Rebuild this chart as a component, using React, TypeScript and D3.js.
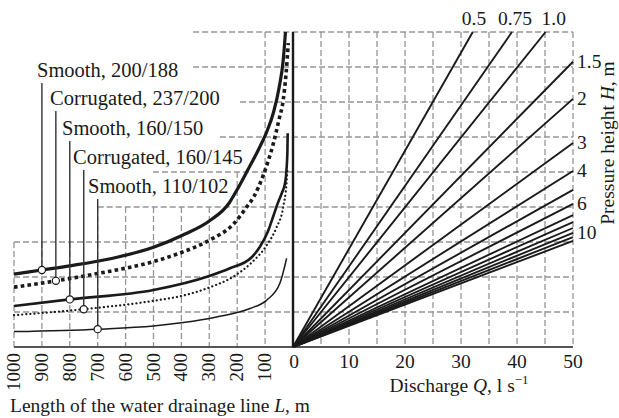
import React, { useEffect, useRef } from "react";
import * as d3 from "d3";

const W = 619;
const H = 418;

// axes
const lengthTicks = [1000, 900, 800, 700, 600, 500, 400, 300, 200, 100];
const dischargeTicks = [10, 20, 30, 40, 50];
const dischargeGrid = [5, 10, 15, 20, 25, 30, 35, 40, 45, 50];
const gridRows = [1, 2, 3, 4, 5, 6, 7, 8, 9];

// left panel grid is cut away under the labels
const rowStartL = [1000, 1000, 1000, 700, 502, 262, 190, 358, 358];
const colTopRow = [3, 3, 3, 4, 4, 4, 4, 4, 5, 9];

// drainage pipe curves: [length L (m), value on shared vertical scale]
const smooth200 = [[1000, 2.08], [900, 2.2], [800, 2.32], [650, 2.53], [500, 2.85], [400, 3.18], [300, 3.6], [230, 4.1], [200, 4.5], [166, 5.0], [120, 5.7], [94, 6.15], [70, 6.7], [50, 7.4], [35, 8.2], [27, 9.0]];
const corrugated237 = [[1000, 1.71], [850, 1.89], [700, 2.1], [500, 2.44], [400, 2.7], [300, 3.05], [215, 3.5], [166, 4.0], [140, 4.3], [107, 4.9], [71, 5.8], [50, 6.5], [35, 7.06], [25, 7.8], [17, 8.68]];
const smooth160 = [[1000, 1.17], [800, 1.36], [500, 1.63], [300, 2.03], [226, 2.25], [150, 2.55], [118, 2.87], [90, 3.3], [70, 3.75], [55, 4.1], [40, 4.4], [28, 4.7], [23, 5.1], [20, 5.6], [19, 6.11]];
const corrugated160 = [[1000, 0.91], [750, 1.08], [500, 1.32], [393, 1.47], [300, 1.7], [214, 2.01], [150, 2.4], [94, 2.91], [60, 3.4], [35, 4.0], [23, 4.7], [20, 5.06]];
const smooth110 = [[1000, 0.44], [700, 0.51], [500, 0.6], [393, 0.7], [274, 0.86], [154, 1.1], [94, 1.34], [47, 1.82], [23, 2.53]];

const curveNames = ["Smooth, 200/188", "Corrugated, 237/200", "Smooth, 160/150", "Corrugated, 160/145", "Smooth, 110/102"];
const curveData = [smooth200, corrugated237, smooth160, corrugated160, smooth110];
const markL = [900, 850, 800, 750, 700];

// pressure height lines from origin: end discharge Q and end value
const pressureLabels = ["0.5", "0.75", "1.0", "1.5", "2", "3", "4", "", "6", "", "", "", "10", "", ""];
const pressureEndQ = [32.1, 39.1, 45.1, 50, 50, 50, 50, 50, 50, 50, 50, 50, 50, 50, 50];
const pressureEndV = [9, 9, 9, 8.15, 7.09, 5.83, 5.03, 4.49, 4.09, 3.77, 3.57, 3.4, 3.26, 3.14, 3.03];

const FONT = "Liberation Serif, DejaVu Serif, serif";
const GRID = "#959595";
const INK = "#1a1a1a";

const styles = [
  { w: 3.2, dash: null, cap: "butt" },
  { w: 3.6, dash: "3.6,3.2", cap: "butt" },
  { w: 2.6, dash: null, cap: "butt" },
  { w: 2.2, dash: "0.1,4", cap: "round" },
  { w: 1.5, dash: null, cap: "butt" },
];

export default function App() {
  const ref = useRef(null);

  useEffect(() => {
    const svg = d3.select(ref.current);
    svg.selectAll("*").remove();

    const xL = d3.scaleLinear().domain([1000, 0]).range([14, 293]);
    const xR = d3.scaleLinear().domain([0, 50]).range([293, 573]);
    const y = d3.scaleLinear().domain([0, 9]).range([347, 32]);

    const g = svg.append("g").attr("font-family", FONT);

    // right grid
    g.selectAll(".vr")
      .data(dischargeGrid)
      .join("line")
      .attr("x1", (d) => xR(d))
      .attr("x2", (d) => xR(d))
      .attr("y1", y(9))
      .attr("y2", y(0))
      .attr("stroke", GRID)
      .attr("stroke-width", 1.3)
      .attr("stroke-dasharray", "6,3");
    g.selectAll(".hr")
      .data(gridRows)
      .join("line")
      .attr("x1", (d, i) => xL(rowStartL[i]))
      .attr("x2", xR(50))
      .attr("y1", (d) => y(d))
      .attr("y2", (d) => y(d))
      .attr("stroke", GRID)
      .attr("stroke-width", 1.3)
      .attr("stroke-dasharray", "6,3");
    // left grid columns
    g.selectAll(".vl")
      .data(lengthTicks)
      .join("line")
      .attr("x1", (d) => xL(d))
      .attr("x2", (d) => xL(d))
      .attr("y1", (d, i) => y(colTopRow[i]))
      .attr("y2", y(0))
      .attr("stroke", GRID)
      .attr("stroke-width", 1.3)
      .attr("stroke-dasharray", "6,3");

    // axes lines
    g.append("line")
      .attr("x1", xL(1000))
      .attr("x2", xR(50))
      .attr("y1", y(0))
      .attr("y2", y(0))
      .attr("stroke", "#555")
      .attr("stroke-width", 2);
    g.append("line")
      .attr("x1", xR(0))
      .attr("x2", xR(0))
      .attr("y1", y(9))
      .attr("y2", y(0))
      .attr("stroke", INK)
      .attr("stroke-width", 2.4);

    // pressure lines
    g.selectAll(".pl")
      .data(pressureEndQ)
      .join("line")
      .attr("x1", xR(0))
      .attr("y1", y(0))
      .attr("x2", (d) => xR(d))
      .attr("y2", (d, i) => y(pressureEndV[i]))
      .attr("stroke", INK)
      .attr("stroke-width", 1.9);

    // curves
    const line = d3
      .line()
      .x((d) => xL(d[0]))
      .y((d) => y(d[1]))
      .curve(d3.curveMonotoneX);
    curveData.forEach((data, i) => {
      const s = styles[i];
      const p = g
        .append("path")
        .attr("d", line(data))
        .attr("fill", "none")
        .attr("stroke", INK)
        .attr("stroke-width", s.w)
        .attr("stroke-linecap", s.cap);
      if (s.dash) p.attr("stroke-dasharray", s.dash);
    });

    // labels with leader lines
    const labelX = [37, 50, 62, 73, 88];
    const labelY = [77, 105, 135, 164, 193];
    const findV = (data, L) => {
      const f = d3.scaleLinear().domain(data.map((d) => d[0])).range(data.map((d) => d[1]));
      return f(L);
    };
    curveNames.forEach((name, i) => {
      const mx = xL(markL[i]);
      const my = y(findV(curveData[i], markL[i]));
      g.append("line")
        .attr("x1", mx)
        .attr("x2", mx)
        .attr("y1", labelY[i] + 6)
        .attr("y2", my)
        .attr("stroke", "#333")
        .attr("stroke-width", 1.4);
      g.append("circle")
        .attr("cx", mx)
        .attr("cy", my)
        .attr("r", 3.6)
        .attr("fill", "white")
        .attr("stroke", INK)
        .attr("stroke-width", 1.2);
      g.append("text")
        .attr("x", labelX[i])
        .attr("y", labelY[i])
        .attr("font-size", 20.5)
        .attr("fill", INK)
        .text(name);
    });

    // length tick labels (rotated)
    g.selectAll(".lt")
      .data(lengthTicks)
      .join("text")
      .attr("transform", (d) => `translate(${xL(d) + 6},${y(0) + 6}) rotate(-90)`)
      .attr("text-anchor", "end")
      .attr("font-size", 19)
      .attr("fill", INK)
      .text((d) => d);

    // discharge tick labels
    g.selectAll(".dt")
      .data(dischargeTicks)
      .join("text")
      .attr("x", (d) => xR(d))
      .attr("y", y(0) + 21)
      .attr("text-anchor", "middle")
      .attr("font-size", 19.5)
      .attr("fill", INK)
      .text((d) => d);
    g.append("text")
      .attr("x", xR(0) + 1)
      .attr("y", y(0) + 21)
      .attr("text-anchor", "middle")
      .attr("font-size", 19.5)
      .attr("fill", INK)
      .text("0");

    // pressure labels
    const topOffset = [-11, -14, -4];
    pressureLabels.forEach((lab, i) => {
      if (!lab) return;
      const ex = xR(pressureEndQ[i]);
      const ey = y(pressureEndV[i]);
      if (pressureEndV[i] >= 9) {
        g.append("text")
          .attr("x", ex + topOffset[i])
          .attr("y", 25)
          .attr("font-size", 19.5)
          .attr("fill", INK)
          .text(lab);
      } else {
        g.append("text")
          .attr("x", ex + 4)
          .attr("y", ey + 6)
          .attr("font-size", 19.5)
          .attr("fill", INK)
          .text(lab);
      }
    });

    // axis titles
    const t1 = g
      .append("text")
      .attr("x", 459)
      .attr("y", 392)
      .attr("text-anchor", "middle")
      .attr("font-size", 19.5)
      .attr("fill", INK);
    t1.append("tspan").text("Discharge ");
    t1.append("tspan").attr("font-style", "italic").text("Q");
    t1.append("tspan").text(", l s");
    t1.append("tspan").attr("dy", -8).attr("font-size", 13).text("\u22121");

    const t2 = g
      .append("text")
      .attr("x", 10)
      .attr("y", 412)
      .attr("font-size", 19.5)
      .attr("fill", INK);
    t2.append("tspan").text("Length of the water drainage line ");
    t2.append("tspan").attr("font-style", "italic").text("L");
    t2.append("tspan").text(", m");

    const t3 = g
      .append("text")
      .attr("transform", "translate(614,143) rotate(-90)")
      .attr("text-anchor", "middle")
      .attr("font-size", 19.5)
      .attr("fill", INK);
    t3.append("tspan").text("Pressure height  ");
    t3.append("tspan").attr("font-style", "italic").text("H");
    t3.append("tspan").text(", m");
  }, []);

  return (
    <svg
      ref={ref}
      width={W}
      height={H}
      style={{ position: "absolute", left: 0, top: 0, background: "white" }}
    />
  );
}
